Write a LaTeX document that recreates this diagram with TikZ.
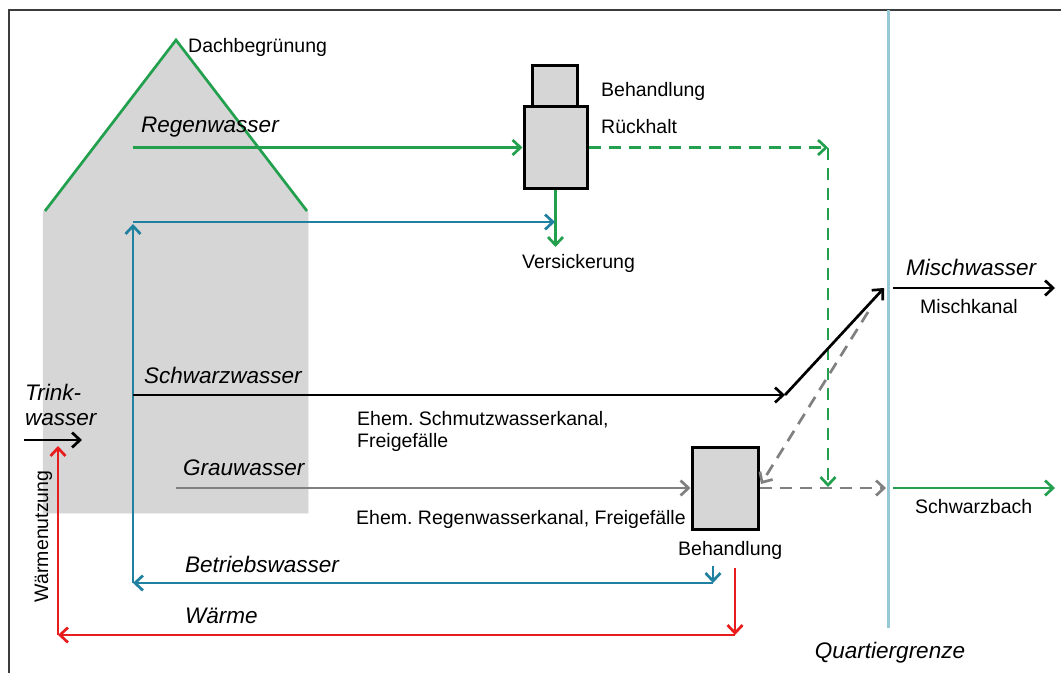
\documentclass[tikz,border=0pt]{standalone}
\usepackage{fontspec}
\setmainfont{Liberation Sans}
\usetikzlibrary{arrows.meta}
\frenchspacing
\definecolor{cgreen}{RGB}{34,160,78}
\definecolor{cblue}{RGB}{32,128,160}
\definecolor{cred}{RGB}{232,28,28}
\definecolor{cbound}{RGB}{150,200,214}
\definecolor{cgrayline}{RGB}{128,128,128}
\definecolor{chouse}{RGB}{214,214,214}
\definecolor{cframe}{RGB}{60,60,60}
\begin{document}
\begin{tikzpicture}[x=1pt,y=-1pt,
  lbl/.style={inner sep=0pt, anchor=base west, font=\fontsize{19.5}{22}\selectfont},
  ilbl/.style={inner sep=0pt, anchor=base west, font=\fontsize{22.5}{25}\selectfont\itshape},
  arr/.style={line width=2.7pt, -{Straight Barb[length=8pt,width=15pt]}},
  plain/.style={line width=2.7pt},
  dsh/.style={dash pattern=on 12pt off 8pt},
  box/.style={draw=black, line width=3pt, fill=chouse, inner sep=0pt},
]
\useasboundingbox (0,0) rectangle (1061,673);
% frame
\draw[cframe, line width=1.5pt] (9,673) -- (9,10) -- (1061,10);
% house
\path[fill=chouse, draw=chouse, line width=0.5pt] (43pt,-513pt) -- (43pt,-212pt) -- (176pt,-40pt) -- (308pt,-212pt) -- (308pt,-513pt) -- cycle;
\coordinate (rl) at (45,211);
\coordinate (ra) at (176,40);
\coordinate (rr) at (307,211);
\draw[cgreen, plain] (rl) -- (ra) -- (rr);
% boundary
\coordinate (q1) at (888,10);
\coordinate (q2) at (888,628);
\draw[cbound, line width=3pt] (q1) -- (q2);
% boxes
\node[box, minimum width=45pt, minimum height=41pt] (rtop) at (554.5,85.5) {};
\node[box, minimum width=63pt, minimum height=82pt] (rbox) at (555.5,147.5) {};
\node[box, minimum width=66pt, minimum height=82pt] (bbox) at (725,488) {};
% coordinates
\coordinate (rs) at (133,147.5);
\coordinate (gc) at (828,147.5);
\coordinate (gd) at (828,487);
\coordinate (vs) at (555.5,247);
\coordinate (bTL) at (133,222);
\coordinate (bTR) at (555,222);
\coordinate (bUp) at (133,224);
\coordinate (bBL) at (133,583);
\coordinate (bBR) at (713,583);
\coordinate (bS) at (713,566);
\coordinate (rS) at (735,568);
\coordinate (rBR) at (735,635);
\coordinate (rBL) at (58,635);
\coordinate (rUp) at (58,446);
\coordinate (tw1) at (24,440);
\coordinate (tw2) at (82,440);
\coordinate (sw1) at (133,395);
\coordinate (sw2) at (785,395);
\coordinate (mw) at (884,288);
\coordinate (mw1) at (893,288);
\coordinate (mw2) at (1055,288);
\coordinate (gw1) at (176,488);
\coordinate (qg) at (886,488);
\coordinate (dg) at (868,312);
\coordinate (db) at (761,484);
\coordinate (sb1) at (893,488);
\coordinate (sb2) at (1055,488);
% green
\draw[cgreen, arr] (rs) -- (rbox.west);
\draw[cgreen, arr, dsh] (rbox.east) -- (gc);
\draw[cgreen, arr, dsh] (gc) -- (gd);
\draw[cgreen, arr] (rbox.south) -- (vs);
\draw[cgreen, arr] (sb1) -- (sb2);
% blue
\draw[cblue, arr] (bTL) -- (bTR);
\draw[cblue, arr] (bBL) -- (bUp);
\draw[cblue, arr] (bBR) -- (bBL);
\draw[cblue, arr] (bS) -- (bBR);
% red
\draw[cred, arr] (rS) -- (rBR);
\draw[cred, arr] (rBR) -- (rBL);
\draw[cred, arr] (rBL) -- (rUp);
% black
\draw[black, arr] (tw1) -- (tw2);
\draw[black, arr] (sw1) -- (sw2);
\draw[black, arr] (sw2) -- (mw);
\draw[black, arr] (mw1) -- (mw2);
% gray
\draw[cgrayline, arr] (gw1) -- (bbox.west);
\draw[cgrayline, arr, dsh] (bbox.east) -- (qg);
\draw[cgrayline, arr, dsh] (dg) -- (db);
% labels
\node[lbl] (tDach) at (188,52) {Dachbegrünung};
\node[ilbl] (tRegen) at (141,132) {Regenwasser};
\node[lbl] (tBeh1) at (601,96) {Behandlung};
\node[lbl] (tRueck) at (601,133) {Rückhalt};
\node[lbl] (tVers) at (522,268) {Versickerung};
\node[ilbl] (tSchwarz) at (144,383) {Schwarzwasser};
\node[ilbl, align=left] (tTrink) at (25,425) {Trink-\\wasser};
\node[lbl, align=left] (tEhem1) at (357,447) {Ehem. Schmutzwasserkanal,\\Freigefälle};
\node[ilbl] (tGrau) at (183,475) {Grauwasser};
\node[lbl] (tEhem2) at (356,524) {Ehem. Regenwasserkanal, Freigefälle};
\node[lbl] (tBeh2) at (678,555) {Behandlung};
\node[ilbl] (tBetr) at (185,572) {Betriebswasser};
\node[ilbl] (tWaerme) at (185,623) {Wärme};
\node[lbl, rotate=90] (tWnutz) at (48,603) {Wärmenutzung};
\node[ilbl] (tMisch) at (906,275) {Mischwasser};
\node[lbl] (tMkanal) at (920,313) {Mischkanal};
\node[lbl] (tSbach) at (915,513) {Schwarzbach};
\node[ilbl, anchor=base] (tQuart) at (890,658) {Quartiergrenze};
\end{tikzpicture}
\end{document}
